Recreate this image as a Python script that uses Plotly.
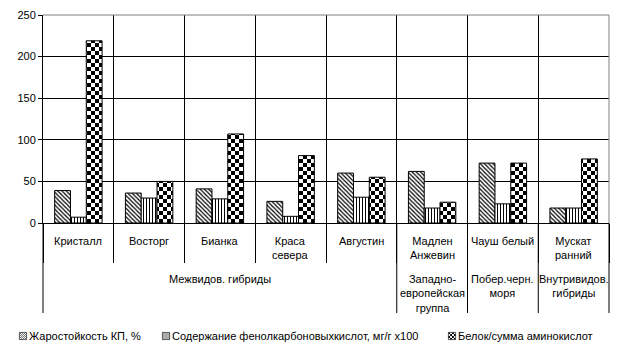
import plotly.graph_objects as go

# ---------------- data ----------------
categories = ["Кристалл", "Восторг", "Бианка", "Краса<br>севера", "Августин",
              "Мадлен<br>Анжевин", "Чауш белый", "Мускат<br>ранний"]
groups = ["Межвидов. гибриды", "Западно-<br>европейская<br>группа",
          "Побер.черн.<br>моря", "Внутривидов.<br>гибриды"]
group_sizes = [5, 1, 1, 1]

series_names = ["Жаростойкость КП, %",
                "Содержание фенолкарбоновыхкислот, мг/г x100",
                "Белок/сумма аминокислот"]
heat_resistance = [39, 36, 41, 26, 60, 62, 72, 18]
phenolcarbonic = [7, 30, 29, 8, 31, 18, 23, 18]
protein_ratio = [219, 50, 107, 81, 55, 25, 72, 77]

y_ticks = [0, 50, 100, 150, 200, 250]

# ---------------- layout constants ----------------
W, H = 623, 354
M_L, M_R, M_T, M_B = 43, 14, 15, 131
PLOT_W = W - M_L - M_R
PLOT_H = H - M_T - M_B
Y0 = H - M_B  # pixel y of the zero line

def py(ypx):
    return (Y0 - ypx) / PLOT_H

def px(xpx):
    return (xpx - M_L) / PLOT_W

FONT = "Liberation Sans, Arial, sans-serif"

fig = go.Figure()
styles = [
    dict(shape="\\", size=3, solidity=0.4, uid="hatch"),
    dict(shape="|", size=3, solidity=0.33, uid="vert"),
    dict(shape="+", size=8, solidity=0.5, uid="checkerbars"),
]
legend_ids = ["legend", "legend2", "legend3"]
legend_text_x = [29, 172, 458]  # pixel x where each legend text starts
for name, vals, st, lg in zip(series_names,
                              [heat_resistance, phenolcarbonic, protein_ratio],
                              styles, legend_ids):
    fig.add_trace(go.Bar(
        x=categories, y=vals, name=name, uid=st["uid"], legend=lg,
        marker=dict(color="white",
                    line=dict(color="black", width=1),
                    pattern=dict(shape=st["shape"], size=st["size"],
                                 solidity=st["solidity"], fgcolor="black",
                                 bgcolor="white", fillmode="replace")),
        hoverinfo="skip",
    ))

n = len(categories)
shapes = []
cum = 0
bounds = [0]
for s in group_sizes:
    cum += s
    bounds.append(cum)
for b in bounds:
    shapes.append(dict(type="line", xref="paper", yref="paper",
                       x0=b / n, x1=b / n, y0=0, y1=py(313),
                       line=dict(color="black", width=1), layer="above"))
shapes.append(dict(type="line", xref="paper", yref="paper", x0=0, x1=1, y0=1, y1=1,
                   line=dict(color="#808080", width=1), layer="above"))
shapes.append(dict(type="line", xref="paper", yref="paper", x0=1, x1=1, y0=0, y1=1,
                   line=dict(color="#808080", width=1), layer="above"))

annotations = []
for c in categories:
    annotations.append(dict(x=c, xref="x", yref="paper", y=py(233), yanchor="top",
                            xanchor="center", text=c, showarrow=False,
                            font=dict(family=FONT, size=11, color="black")))
start = 0
for g, s in zip(groups, group_sizes):
    center = start + (s - 1) / 2
    annotations.append(dict(x=center, xref="x", yref="paper", y=py(270.5),
                            yanchor="top", xanchor="center", text=g,
                            showarrow=False,
                            font=dict(family=FONT, size=11, color="black")))
    start += s

legend_layouts = {}
for lg, tx in zip(legend_ids, legend_text_x):
    legend_layouts[lg] = dict(orientation="h", x=px(tx - 40), xanchor="left",
                              y=py(336), yanchor="middle",
                              font=dict(family=FONT, size=11, color="black"),
                              bgcolor="rgba(0,0,0,0)", itemwidth=30)

fig.update_layout(
    width=W, height=H,
    margin=dict(l=M_L, r=M_R, t=M_T, b=M_B, pad=0, autoexpand=False),
    paper_bgcolor="white", plot_bgcolor="white",
    barmode="group", bargap=0.33, bargroupgap=0,
    font=dict(family=FONT, size=11, color="black"),
    showlegend=True,
    xaxis=dict(type="category", range=[-0.5, n - 0.5], tickson="boundaries",
               showgrid=True, gridcolor="black", gridwidth=1,
               ticks="outside", ticklen=39, tickcolor="black", tickwidth=1,
               showticklabels=False, showline=True, linecolor="black",
               linewidth=1, zeroline=False, fixedrange=True),
    yaxis=dict(range=[0, 250], tickvals=y_ticks, showgrid=True, gridcolor="black",
               gridwidth=1, ticks="outside", ticklen=4, tickcolor="black",
               showline=True, linecolor="black", linewidth=1, zeroline=False,
               tickfont=dict(family=FONT, size=11, color="black"), fixedrange=True),
    shapes=shapes, annotations=annotations,
    **legend_layouts,
)

post = """
(function(){
  var gd = document.getElementById('{plot_id}');
  var ns = 'http://www.w3.org/2000/svg';
  function fix(){
    var pats = document.querySelectorAll('pattern');
    pats.forEach(function(pat){
      if (pat.id.indexOf('checkerbars') < 0) return;
      var s = 8, h = 4;
      pat.setAttribute('width', s); pat.setAttribute('height', s);
      while (pat.firstChild) pat.removeChild(pat.firstChild);
      function r(x, y, w, hh, c){
        var e = document.createElementNS(ns, 'rect');
        e.setAttribute('x', x); e.setAttribute('y', y);
        e.setAttribute('width', w); e.setAttribute('height', hh);
        e.setAttribute('fill', c); pat.appendChild(e);
      }
      r(0, 0, s, s, '#ffffff'); r(0, 0, h, h, '#000000'); r(h, h, h, h, '#000000');
    });
    // smaller legend symbols placed right before their text
    document.querySelectorAll('.legendpoints path').forEach(function(p){
      p.setAttribute('transform', 'translate(34,0) scale(0.6)');
    });
  }
  fix();
  if (gd && gd.on) gd.on('plotly_afterplot', fix);
})();
"""

fig.write_html("out.html", post_script=post, config={"displayModeBar": False})
